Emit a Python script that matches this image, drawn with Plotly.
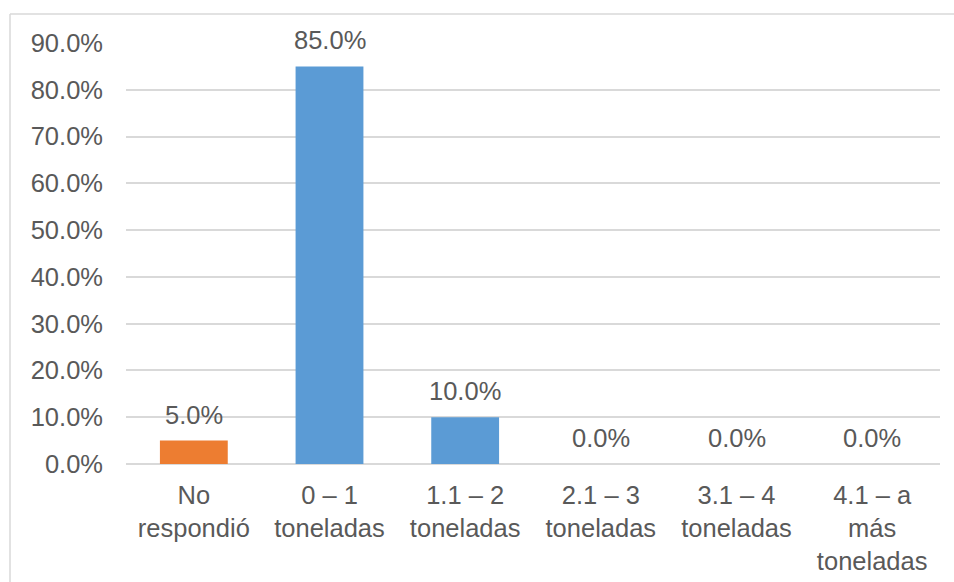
import plotly.graph_objects as go

categories = ["No<br>respondió", "0 – 1<br>toneladas", "1.1 – 2<br>toneladas",
              "2.1 – 3<br>toneladas", "3.1 – 4<br>toneladas", "4.1 – a<br>más<br>toneladas"]
values = [5.0, 85.0, 10.0, 0.0, 0.0, 0.0]
colors = ["#ED7D31", "#5B9BD5", "#5B9BD5", "#5B9BD5", "#5B9BD5", "#5B9BD5"]
tick_vals = [0, 10, 20, 30, 40, 50, 60, 70, 80, 90]
tick_text = ["%.1f%%" % v for v in tick_vals]

W, H = 954, 582
L, R, T, B = 126, 14, 43, 118
pw, ph = W - L - R, H - T - B
FS = 25.5
FONT = "Liberation Sans, Arial"
TXT = "#595959"

fig = go.Figure()
fig.add_trace(go.Bar(x=categories, y=values, marker=dict(color=colors, line=dict(width=0)),
                     hoverinfo="skip"))

for c, v in zip(categories, values):
    fig.add_annotation(x=c, y=v, text="%.1f%%" % v, showarrow=False,
                       yanchor="middle", yshift=26,
                       font=dict(size=FS, color=TXT, family=FONT))

def px_x(p):
    return (p - L) / pw

def px_y(p):
    return (H - B - p) / ph

border = "#D9D9D9"
fig.add_shape(type="line", xref="paper", yref="paper", x0=px_x(10), x1=px_x(960),
              y0=px_y(14), y1=px_y(14), line=dict(color=border, width=1.5))
fig.add_shape(type="line", xref="paper", yref="paper", x0=px_x(10), x1=px_x(10),
              y0=px_y(14), y1=px_y(590), line=dict(color=border, width=1.5))

fig.update_layout(
    width=W, height=H,
    margin=dict(l=L, r=R, t=T, b=B, autoexpand=False),
    paper_bgcolor="white", plot_bgcolor="white",
    bargap=0.5, showlegend=False,
    font=dict(family=FONT, size=FS, color=TXT),
    xaxis=dict(showgrid=False, showline=False, ticks="", ticklabelstandoff=13,
               automargin=False, tickfont=dict(size=FS, color=TXT)),
    yaxis=dict(range=[0, 90], tickvals=tick_vals, ticktext=tick_text, showgrid=True,
               gridcolor=border, gridwidth=1.5, zeroline=True, zerolinecolor=border,
               zerolinewidth=1.5, showline=False, ticks="", ticklabelstandoff=22,
               automargin=False, tickfont=dict(size=FS, color=TXT)),
)

fig.write_html("out.html")
